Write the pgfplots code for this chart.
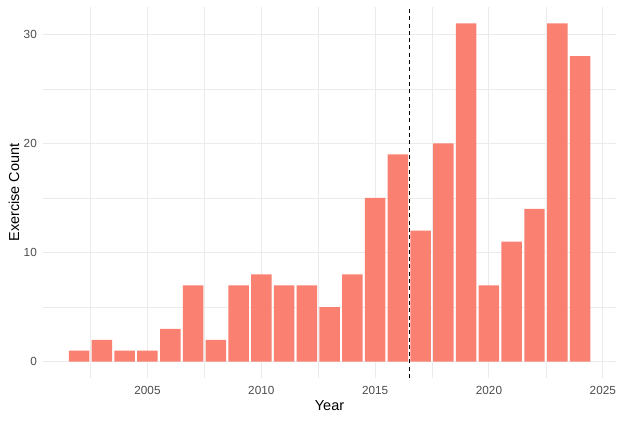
\documentclass[border=0pt]{standalone}
\usepackage{pgfplots}
\pgfplotsset{compat=1.18}
\usepackage{fontspec}
\setmainfont{Liberation Sans}
\definecolor{barc}{HTML}{FA8072}
\definecolor{gridc}{HTML}{EBEBEB}
\definecolor{tickc}{HTML}{4D4D4D}
\begin{document}
\begin{tikzpicture}
\begin{axis}[
  scale only axis, width=573bp, height=371bp,
  xmin=2000.41, xmax=2025.58, ymin=-1.5, ymax=32.5,
  axis line style={draw=none},
  major tick length=0pt, minor tick length=0pt,
  xtick={2005,2010,2015,2020,2025},
  minor xtick={2002.5,2007.5,2012.5,2017.5,2022.5},
  ytick={0,10,20,30},
  minor ytick={5,15,25},
  grid=both,
  major grid style={draw=gridc, line width=1bp},
  minor grid style={draw=gridc, line width=0.6bp},
  /pgf/number format/assume math mode=true,
  /pgf/number format/1000 sep={},
  xticklabel style={font=\fontsize{11.8}{13}\selectfont, text=tickc, inner sep=0pt, anchor=center, yshift=-12bp},
  yticklabel style={font=\fontsize{11.8}{13}\selectfont, text=tickc, inner sep=0pt, anchor=east, xshift=-6bp},
  xlabel={Year}, ylabel={Exercise Count},
  xlabel style={font=\fontsize{14.5}{16}\selectfont, at={(axis description cs:0.5,-0.0755)}, anchor=center},
  ylabel style={font=\fontsize{14.5}{16}\selectfont, at={(axis description cs:-0.0506,0.5)}, anchor=center, rotate=0},
]
\addplot[ybar, bar width=0.9, fill=barc, draw=none] coordinates {
(2002,1) (2003,2) (2004,1) (2005,1) (2006,3) (2007,7) (2008,2) (2009,7)
(2010,8) (2011,7) (2012,7) (2013,5) (2014,8) (2015,15) (2016,19)
(2017,12) (2018,20) (2019,31) (2020,7) (2021,11) (2022,14) (2023,31) (2024,28)
};
\addplot[black, line width=1.5bp, dash pattern=on 4bp off 3.3bp, no marks] coordinates {(2016.5,-1.5) (2016.5,32.5)};
\end{axis}
\pgfresetboundingbox
\path ([shift={(-43bp,-43bp)}]current axis.south west) rectangle ([shift={(8bp,7bp)}]current axis.north east);
\end{tikzpicture}
\end{document}
